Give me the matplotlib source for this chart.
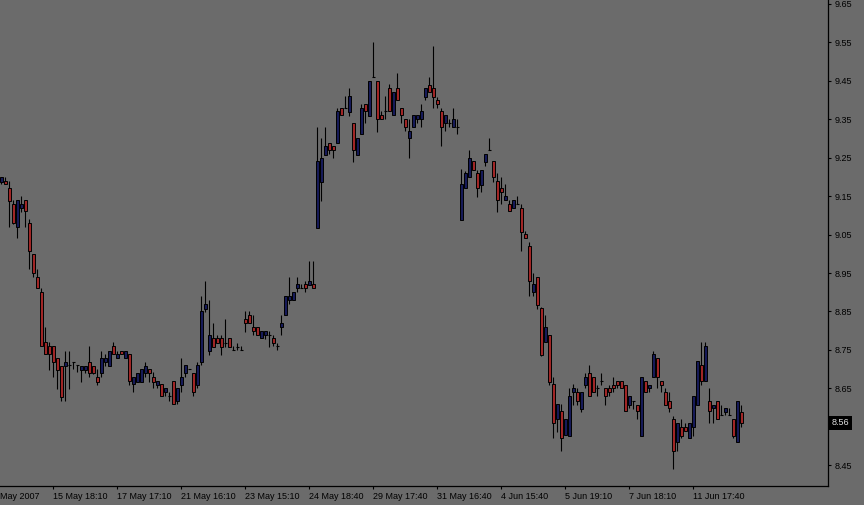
import numpy as np
import matplotlib
matplotlib.use('Agg')
import matplotlib.pyplot as plt
import matplotlib.transforms as mtransforms

# OHLC per bar (bar 0 = leftmost visible bar)
opens = [
    9.186, 9.189, 9.171, 9.129, 9.069, 9.119, 9.139, 9.080, 8.999, 8.939,
    8.900, 8.770, 8.759, 8.759, 8.728, 8.707, 8.707, 8.710, 8.718, 8.710,
    8.697, 8.697, 8.718, 8.707, 8.679, 8.689, 8.718, 8.707, 8.759, 8.728,
    8.747, 8.728, 8.739, 8.661, 8.666, 8.666, 8.689, 8.700, 8.679, 8.658,
    8.661, 8.640, 8.630, 8.669, 8.616, 8.658, 8.689, 8.700, 8.689, 8.658,
    8.718, 8.856, 8.747, 8.780, 8.780, 8.780, 8.767, 8.780, 8.749, 8.757,
    8.749, 8.830, 8.840, 8.809, 8.809, 8.780, 8.788, 8.788, 8.780, 8.759,
    8.809, 8.840, 8.879, 8.879, 8.910, 8.910, 8.921, 8.918, 8.921, 9.066,
    9.186, 9.256, 9.288, 9.280, 9.288, 9.379, 9.379, 9.368, 9.340, 9.256,
    9.311, 9.389, 9.358, 9.459, 9.449, 9.360, 9.371, 9.431, 9.360, 9.431,
    9.379, 9.350, 9.301, 9.329, 9.350, 9.350, 9.407, 9.438, 9.431, 9.400,
    9.371, 9.340, 9.340, 9.329, 9.329, 9.087, 9.171, 9.199, 9.241, 9.210,
    9.178, 9.238, 9.269, 9.241, 9.189, 9.171, 9.139, 9.129, 9.119, 9.129,
    9.119, 9.051, 9.020, 8.900, 8.939, 8.858, 8.770, 8.788, 8.661, 8.570,
    8.590, 8.528, 8.525, 8.640, 8.640, 8.596, 8.658, 8.689, 8.679, 8.650,
    8.669, 8.650, 8.650, 8.658, 8.669, 8.669, 8.658, 8.606, 8.616, 8.606,
    8.525, 8.669, 8.650, 8.679, 8.728, 8.669, 8.640, 8.616, 8.570, 8.510,
    8.549, 8.549, 8.520, 8.549, 8.606, 8.710, 8.669, 8.616, 8.598, 8.616,
    8.580, 8.588, 8.580, 8.570, 8.510, 8.588,
]
highs = [
    9.199, 9.199, 9.189, 9.139, 9.139, 9.150, 9.139, 9.090, 8.999, 8.960,
    8.910, 8.809, 8.770, 8.759, 8.728, 8.707, 8.747, 8.747, 8.718, 8.710,
    8.707, 8.707, 8.759, 8.707, 8.700, 8.747, 8.739, 8.747, 8.770, 8.747,
    8.747, 8.747, 8.739, 8.679, 8.689, 8.700, 8.718, 8.700, 8.692, 8.669,
    8.661, 8.650, 8.640, 8.669, 8.650, 8.728, 8.710, 8.700, 8.689, 8.718,
    8.890, 8.929, 8.879, 8.819, 8.788, 8.788, 8.830, 8.780, 8.759, 8.767,
    8.759, 8.851, 8.851, 8.840, 8.809, 8.799, 8.799, 8.799, 8.788, 8.767,
    8.840, 8.889, 8.939, 8.900, 8.939, 8.921, 8.929, 8.981, 8.981, 9.329,
    9.301, 9.329, 9.288, 9.280, 9.379, 9.379, 9.410, 9.431, 9.340, 9.301,
    9.389, 9.389, 9.449, 9.550, 9.449, 9.371, 9.410, 9.441, 9.420, 9.470,
    9.379, 9.350, 9.350, 9.360, 9.360, 9.389, 9.431, 9.459, 9.540, 9.407,
    9.379, 9.360, 9.350, 9.379, 9.350, 9.220, 9.215, 9.269, 9.241, 9.217,
    9.217, 9.259, 9.301, 9.241, 9.210, 9.199, 9.181, 9.139, 9.139, 9.150,
    9.129, 9.059, 9.030, 8.949, 8.939, 8.861, 8.840, 8.788, 8.679, 8.609,
    8.609, 8.570, 8.650, 8.661, 8.650, 8.640, 8.689, 8.710, 8.679, 8.658,
    8.689, 8.650, 8.658, 8.679, 8.669, 8.669, 8.658, 8.629, 8.616, 8.606,
    8.679, 8.669, 8.658, 8.747, 8.728, 8.669, 8.650, 8.640, 8.577, 8.559,
    8.570, 8.559, 8.559, 8.629, 8.720, 8.770, 8.770, 8.650, 8.606, 8.616,
    8.606, 8.598, 8.598, 8.570, 8.616, 8.606,
]
lows = [
    9.181, 9.181, 9.069, 9.078, 9.040, 9.108, 9.069, 8.960, 8.939, 8.910,
    8.759, 8.739, 8.697, 8.679, 8.648, 8.616, 8.616, 8.648, 8.700, 8.692,
    8.666, 8.689, 8.679, 8.686, 8.658, 8.679, 8.707, 8.707, 8.739, 8.728,
    8.739, 8.728, 8.658, 8.640, 8.666, 8.666, 8.679, 8.666, 8.650, 8.650,
    8.630, 8.630, 8.616, 8.609, 8.609, 8.640, 8.679, 8.700, 8.630, 8.650,
    8.710, 8.848, 8.736, 8.757, 8.767, 8.736, 8.757, 8.757, 8.749, 8.749,
    8.749, 8.796, 8.819, 8.788, 8.788, 8.780, 8.778, 8.757, 8.759, 8.749,
    8.788, 8.840, 8.869, 8.879, 8.900, 8.910, 8.900, 8.918, 8.910, 9.066,
    9.137, 9.256, 9.259, 9.249, 9.288, 9.360, 9.379, 9.358, 9.238, 9.256,
    9.311, 9.340, 9.358, 9.459, 9.316, 9.350, 9.350, 9.371, 9.360, 9.400,
    9.340, 9.319, 9.249, 9.329, 9.340, 9.329, 9.400, 9.420, 9.379, 9.379,
    9.280, 9.319, 9.329, 9.329, 9.311, 9.087, 9.171, 9.199, 9.217, 9.147,
    9.160, 9.228, 9.269, 9.186, 9.108, 9.129, 9.139, 9.111, 9.119, 9.129,
    9.007, 9.040, 8.890, 8.890, 8.856, 8.734, 8.770, 8.658, 8.520, 8.536,
    8.486, 8.528, 8.525, 8.606, 8.606, 8.588, 8.650, 8.629, 8.640, 8.629,
    8.658, 8.606, 8.629, 8.640, 8.650, 8.650, 8.590, 8.598, 8.596, 8.570,
    8.525, 8.640, 8.640, 8.679, 8.650, 8.640, 8.606, 8.588, 8.440, 8.486,
    8.520, 8.538, 8.520, 8.525, 8.606, 8.658, 8.669, 8.559, 8.559, 8.570,
    8.580, 8.580, 8.580, 8.520, 8.510, 8.549,
]
closes = [
    9.199, 9.181, 9.137, 9.080, 9.139, 9.129, 9.111, 9.007, 8.949, 8.910,
    8.759, 8.739, 8.739, 8.718, 8.697, 8.627, 8.718, 8.710, 8.718, 8.710,
    8.707, 8.707, 8.689, 8.689, 8.666, 8.728, 8.728, 8.747, 8.739, 8.739,
    8.739, 8.747, 8.669, 8.679, 8.689, 8.700, 8.707, 8.689, 8.666, 8.669,
    8.630, 8.650, 8.630, 8.609, 8.650, 8.679, 8.710, 8.700, 8.640, 8.710,
    8.851, 8.869, 8.788, 8.757, 8.767, 8.757, 8.767, 8.757, 8.749, 8.757,
    8.749, 8.819, 8.819, 8.799, 8.788, 8.799, 8.799, 8.788, 8.767, 8.759,
    8.819, 8.889, 8.889, 8.900, 8.921, 8.910, 8.910, 8.929, 8.910, 9.241,
    9.249, 9.280, 9.269, 9.269, 9.371, 9.360, 9.379, 9.410, 9.269, 9.301,
    9.379, 9.371, 9.449, 9.459, 9.350, 9.350, 9.371, 9.371, 9.420, 9.400,
    9.360, 9.329, 9.319, 9.360, 9.360, 9.371, 9.431, 9.420, 9.407, 9.389,
    9.329, 9.360, 9.340, 9.350, 9.329, 9.181, 9.210, 9.249, 9.217, 9.171,
    9.217, 9.259, 9.269, 9.199, 9.139, 9.160, 9.150, 9.111, 9.139, 9.129,
    9.056, 9.040, 8.929, 8.921, 8.866, 8.736, 8.809, 8.666, 8.559, 8.609,
    8.520, 8.570, 8.629, 8.650, 8.616, 8.640, 8.679, 8.629, 8.640, 8.650,
    8.669, 8.629, 8.640, 8.650, 8.658, 8.650, 8.590, 8.629, 8.616, 8.590,
    8.679, 8.640, 8.658, 8.739, 8.679, 8.658, 8.606, 8.598, 8.486, 8.559,
    8.525, 8.538, 8.559, 8.629, 8.720, 8.669, 8.759, 8.590, 8.606, 8.570,
    8.580, 8.598, 8.580, 8.525, 8.616, 8.559,
]

first_label = 'May 2007'
time_labels = ['15 May 18:10', '17 May 17:10', '21 May 16:10', '23 May 15:10',
               '24 May 18:40', '29 May 17:40', '31 May 16:40', '4 Jun 15:40',
               '5 Jun 19:10', '7 Jun 18:10', '11 Jun 17:40']
price_ticks = np.round(np.arange(8.45, 9.651, 0.1), 2)
last_price = 8.56

bg = '#6b6b6b'
up_col = '#161a58'
down_col = '#a02626'

plt.rcParams['font.family'] = ['Liberation Sans', 'DejaVu Sans']

fig = plt.figure(figsize=(8.64, 5.05), dpi=100, facecolor=bg)
ax = fig.add_axes([0, 19 / 505, 828 / 864, 486 / 505], facecolor=bg)

o, h, l, c = (np.array(v) for v in (opens, highs, lows, closes))
x = np.arange(len(o))
up = c > o
down = c < o
flat = c == o
body_w = 0.75

# wicks first, bodies on top
ax.vlines(x, l, h, color='black', lw=0.8, zorder=2)
ax.bar(x[up], c[up] - o[up], body_w, bottom=o[up], color=up_col,
       edgecolor='black', lw=0.7, zorder=3)
ax.bar(x[down], o[down] - c[down], body_w, bottom=c[down], color=down_col,
       edgecolor='black', lw=0.7, zorder=3)
ax.hlines(o[flat], x[flat] - body_w / 2, x[flat] + body_w / 2,
          color='black', lw=0.8, zorder=3)

ax.set_xlim(-0.25, 206.75)
ax.set_ylim(8.3958, 9.6604)

for side in ('top', 'left'):
    ax.spines[side].set_visible(False)
for side in ('right', 'bottom'):
    ax.spines[side].set_color('black')
    ax.spines[side].set_linewidth(0.9)

ax.yaxis.tick_right()
ax.set_yticks(price_ticks)
ax.set_yticklabels([f'{v:.2f}' for v in price_ticks])
ax.tick_params(axis='y', direction='out', length=2.5, width=0.8, pad=2,
               labelsize=6.5, colors='black')

# a label every 16 bars
xt = [-0.25] + [13 + 16 * k for k in range(len(time_labels))]
ax.set_xticks(xt)
ax.set_xticklabels([first_label] + time_labels)
ax.tick_params(axis='x', direction='out', length=2.5, width=0.8, pad=1.5,
               labelsize=6.5, colors='black')
for lbl in ax.get_xticklabels():
    lbl.set_horizontalalignment('left')
ax.xaxis.get_major_ticks()[0].tick1line.set_visible(False)

# current price marker on the price scale (covers the 8.55 label like the terminal does)
trans = mtransforms.blended_transform_factory(ax.transAxes, ax.transData)
ax.text(1.0045, last_price, f'{last_price:.2f}', transform=trans,
        ha='left', va='center', fontsize=6.5, color='#e0e0e0', clip_on=False,
        bbox=dict(boxstyle='square,pad=0.32', fc='black', ec='none'), zorder=5)

fig.savefig('out.png', dpi=100, facecolor=bg)
